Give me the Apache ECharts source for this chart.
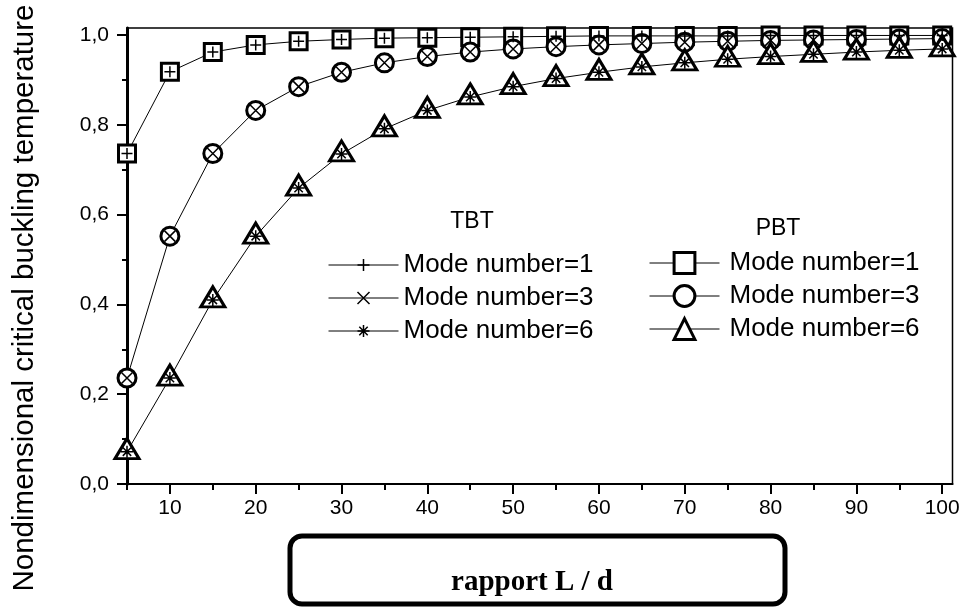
<!DOCTYPE html>
<html>
<head>
<meta charset="utf-8">
<script src="https://cdn.jsdelivr.net/npm/echarts@6/dist/echarts.min.js"></script>
<style>
  html, body { margin: 0; padding: 0; background: #fff; }
  #chart { width: 963px; height: 608px; }
</style>
</head>
<body>
<div id="chart"></div>
<script>
// Slenderness ratio L/d
const ratioLd = [5, 10, 15, 20, 25, 30, 35, 40, 45, 50, 55, 60, 65, 70, 75, 80, 85, 90, 95, 100];

// TBT (Timoshenko beam theory)
const tbtMode1 = [0.736, 0.918, 0.962, 0.978, 0.986, 0.990, 0.993, 0.994, 0.995, 0.996, 0.997, 0.998, 0.998, 0.998, 0.998, 0.999, 0.999, 0.999, 0.999, 0.999];
const tbtMode3 = [0.236, 0.552, 0.736, 0.832, 0.885, 0.917, 0.938, 0.952, 0.962, 0.969, 0.974, 0.978, 0.981, 0.984, 0.986, 0.988, 0.989, 0.990, 0.991, 0.992];
const tbtMode6 = [0.072, 0.236, 0.410, 0.552, 0.659, 0.735, 0.791, 0.832, 0.862, 0.885, 0.903, 0.917, 0.929, 0.938, 0.946, 0.952, 0.957, 0.962, 0.966, 0.969];

// PBT
const pbtMode1 = [0.736, 0.918, 0.962, 0.978, 0.986, 0.990, 0.993, 0.994, 0.995, 0.996, 0.997, 0.998, 0.998, 0.998, 0.998, 0.999, 0.999, 0.999, 0.999, 0.999];
const pbtMode3 = [0.236, 0.552, 0.736, 0.832, 0.885, 0.917, 0.938, 0.952, 0.962, 0.969, 0.974, 0.978, 0.981, 0.984, 0.986, 0.988, 0.989, 0.990, 0.991, 0.992];
const pbtMode6 = [0.072, 0.236, 0.410, 0.552, 0.659, 0.735, 0.791, 0.832, 0.862, 0.885, 0.903, 0.917, 0.929, 0.938, 0.946, 0.952, 0.957, 0.962, 0.966, 0.969];

const modeLabels = ['Mode number=1', 'Mode number=3', 'Mode number=6'];

// Axis ticks and labels
const xMajorTicks = [10, 20, 30, 40, 50, 60, 70, 80, 90, 100];
const xMinorTicks = [5, 15, 25, 35, 45, 55, 65, 75, 85, 95];
const yMajorTicks = [0, 0.2, 0.4, 0.6, 0.8, 1.0];
const yMinorTicks = [0.1, 0.3, 0.5, 0.7, 0.9];

const X_MIN = 5, X_MAX = 101.2, Y_MIN = 0, Y_MAX = 1.0156;

const SANS = '"Liberation Sans", Arial, sans-serif';
const SERIF = '"Liberation Serif", "Times New Roman", serif';

const pairs = ys => ratioLd.map((x, i) => [x, ys[i]]);

// Small stroked glyphs for the TBT curves
const SYM_PLUS = 'path://M0,5L10,5M5,0L5,10';
const SYM_CROSS = 'path://M0,0L10,10M10,0L0,10';
const SYM_STAR = 'path://M5,0L5,10M0,5L10,5M1.5,1.5L8.5,8.5M8.5,1.5L1.5,8.5';

function pbtSeries(name, ys, symbol, size, offset) {
  return {
    name: 'PBT ' + name,
    type: 'line',
    data: pairs(ys),
    z: 2,
    symbol: symbol,
    symbolSize: size,
    symbolOffset: offset || [0, 0],
    showAllSymbol: true,
    lineStyle: { color: '#000', width: 1 },
    itemStyle: { color: '#fff', borderColor: '#000', borderWidth: 3 },
    emphasis: { disabled: true },
    silent: true
  };
}

function tbtSeries(name, ys, symbol, size) {
  return {
    name: 'TBT ' + name,
    type: 'line',
    data: pairs(ys),
    z: 3,
    symbol: symbol,
    symbolSize: size,
    showAllSymbol: true,
    lineStyle: { color: '#000', width: 1, opacity: 0 },
    itemStyle: { color: 'transparent', borderColor: '#000', borderWidth: 1.5 },
    emphasis: { disabled: true },
    silent: true
  };
}

const series = [
  pbtSeries(modeLabels[0], pbtMode1, 'rect', 17),
  pbtSeries(modeLabels[1], pbtMode3, 'circle', 18),
  pbtSeries(modeLabels[2], pbtMode6, 'triangle', [24, 20], [0, -3]),
  tbtSeries(modeLabels[0], tbtMode1, SYM_PLUS, 11),
  tbtSeries(modeLabels[1], tbtMode3, SYM_CROSS, 11),
  tbtSeries(modeLabels[2], tbtMode6, SYM_STAR, 12)
];

const fmtComma = v => v.toFixed(1).replace('.', ',');

const legendBase = {
  orient: 'vertical',
  padding: 0,
  itemWidth: 70,
  itemGap: 7,
  selectedMode: false,
  formatter: n => n.slice(4),
  lineStyle: { color: '#000', width: 1, opacity: 1 },
  textStyle: { fontFamily: SANS, fontSize: 26, lineHeight: 26, color: '#000' }
};

const option = {
  animation: false,
  backgroundColor: '#fff',
  grid: {
    left: 127, top: 28, right: 10.5, bottom: 124,
    show: true, borderColor: '#000', borderWidth: 1.5, backgroundColor: 'transparent',
    containLabel: false, outerBoundsMode: 'none'
  },
  legend: [
    Object.assign({}, legendBase, {
      left: 328, top: 252, itemHeight: 15,
      data: modeLabels.map(n => 'TBT ' + n),
      itemStyle: { borderWidth: 1.5 }
    }),
    Object.assign({}, legendBase, {
      left: 649, top: 250, itemHeight: 26,
      data: modeLabels.map(n => 'PBT ' + n),
      itemStyle: { borderWidth: 3 },
      textStyle: Object.assign({}, legendBase.textStyle, { padding: [0, 0, 0, 5] })
    })
  ],
  xAxis: [
    {
      type: 'value', min: X_MIN, max: X_MAX, position: 'bottom',
      axisLine: { show: true, onZero: false, lineStyle: { color: '#000', width: 2 } },
      axisTick: { show: true, length: 10, customValues: xMajorTicks, lineStyle: { color: '#000', width: 2 } },
      axisLabel: { customValues: xMajorTicks, margin: 14, fontFamily: SANS, fontSize: 21, color: '#000' },
      splitLine: { show: false }
    },
    {
      type: 'value', min: X_MIN, max: X_MAX, position: 'bottom',
      axisLine: { show: false, onZero: false },
      axisTick: { show: true, length: 6, customValues: xMinorTicks, lineStyle: { color: '#000', width: 2 } },
      axisLabel: { show: false },
      splitLine: { show: false }
    }
  ],
  yAxis: [
    {
      type: 'value', min: Y_MIN, max: Y_MAX, position: 'left',
      axisLine: { show: true, onZero: false, lineStyle: { color: '#000', width: 3 } },
      axisTick: { show: true, length: 10, customValues: yMajorTicks, lineStyle: { color: '#000', width: 2 } },
      axisLabel: { customValues: yMajorTicks, formatter: fmtComma, margin: 18, fontFamily: SANS, fontSize: 21, color: '#000' },
      splitLine: { show: false }
    },
    {
      type: 'value', min: Y_MIN, max: Y_MAX, position: 'left',
      axisLine: { show: false, onZero: false },
      axisTick: { show: true, length: 5, customValues: yMinorTicks, lineStyle: { color: '#000', width: 2 } },
      axisLabel: { show: false },
      splitLine: { show: false }
    }
  ],
  graphic: [
    {
      type: 'text', x: 25, y: 298, rotation: Math.PI / 2,
      style: {
        text: 'Nondimensional critical buckling temperature',
        font: '29.5px ' + SANS, fill: '#000', align: 'center', verticalAlign: 'middle'
      }
    },
    {
      type: 'text', x: 472, y: 222,
      style: { text: 'TBT', font: '23px ' + SANS, fill: '#000', align: 'center', verticalAlign: 'middle' }
    },
    {
      type: 'text', x: 778, y: 229,
      style: { text: 'PBT', font: '23px ' + SANS, fill: '#000', align: 'center', verticalAlign: 'middle' }
    },
    {
      type: 'rect',
      shape: { x: 290, y: 536, width: 495, height: 68, r: 12 },
      style: { fill: 'none', stroke: '#000', lineWidth: 5 }
    },
    {
      type: 'text', x: 532, y: 583,
      style: { text: 'rapport L / d', font: 'bold 29px ' + SERIF, fill: '#000', align: 'center', verticalAlign: 'middle' }
    }
  ],
  series: series
};

const chart = echarts.init(document.getElementById('chart'), null, { renderer: 'canvas' });
chart.setOption(option);
</script>
</body>
</html>
